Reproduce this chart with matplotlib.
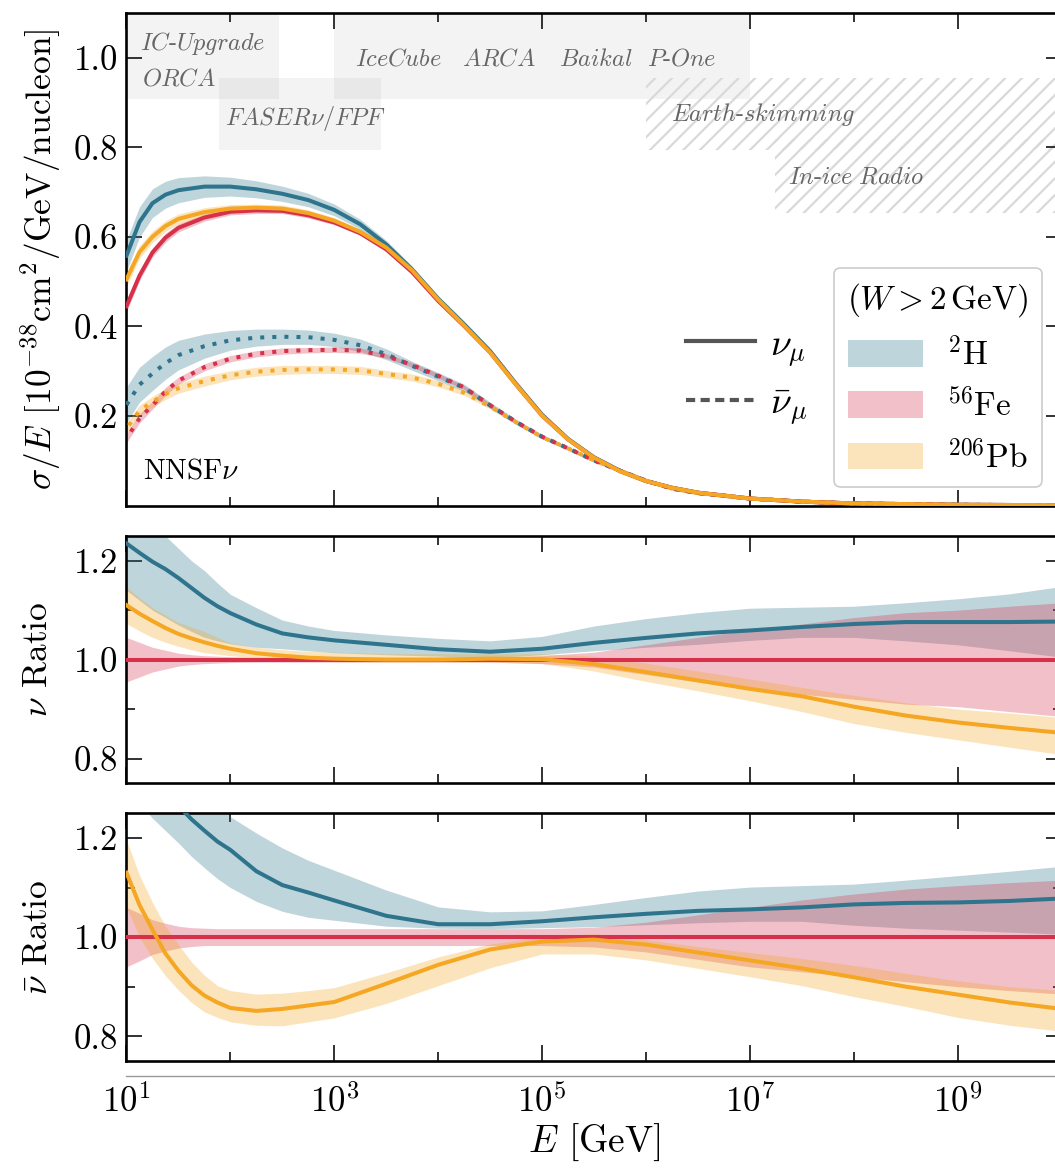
import numpy as np
import matplotlib
matplotlib.use("Agg")
import matplotlib.pyplot as plt
from matplotlib.patches import Patch
from matplotlib.lines import Line2D
from matplotlib.ticker import FixedLocator, NullFormatter, NullLocator

plt.rcParams.update({
    "font.family": "serif",
    "font.serif": ["cmr10"],
    "mathtext.fontset": "cm",
    "axes.formatter.use_mathtext": True,
    "hatch.linewidth": 1.6,
})

# ---------------- data ----------------
nuclei = ["2H", "56Fe", "206Pb"]
nucleus_labels = [r"$^{2}$H", r"$^{56}$Fe", r"$^{206}$Pb"]
colors = ["#2e748c", "#d7304a", "#f5a623"]

# cross sections sigma/E [1e-38 cm^2/GeV/nucleon] vs log10(E/GeV)
log_e_xs = [1.0, 1.125, 1.25, 1.375, 1.5, 1.75, 2.0, 2.25, 2.5, 2.75, 3.0, 3.25, 3.5, 3.75,
            4.0, 4.25, 4.5, 4.75, 5.0, 5.25, 5.5, 5.75, 6.0, 6.25, 6.5, 7.0, 7.5, 8.0, 9.0, 10.0]

xs_nu_h2 = [0.558, 0.633, 0.675, 0.694, 0.704, 0.712, 0.712, 0.706, 0.696, 0.682, 0.660, 0.628,
            0.583, 0.527, 0.462, 0.405, 0.345, 0.272, 0.203, 0.149, 0.108, 0.078, 0.055, 0.040,
            0.029, 0.016, 0.009, 0.005, 0.002, 0.001]
xs_nu_fe = [0.445, 0.513, 0.565, 0.598, 0.620, 0.643, 0.656, 0.659, 0.658, 0.648, 0.632, 0.608,
            0.572, 0.521, 0.457, 0.401, 0.342, 0.270, 0.201, 0.148, 0.107, 0.077, 0.055, 0.040,
            0.029, 0.016, 0.009, 0.005, 0.002, 0.001]
xs_nu_pb = [0.505, 0.566, 0.600, 0.624, 0.640, 0.655, 0.663, 0.665, 0.663, 0.653, 0.636, 0.611,
            0.576, 0.525, 0.460, 0.402, 0.342, 0.270, 0.201, 0.148, 0.107, 0.077, 0.055, 0.040,
            0.029, 0.016, 0.009, 0.005, 0.002, 0.001]
err_nu_h2 = [0.035, 0.034, 0.032, 0.030, 0.028, 0.024, 0.021, 0.019, 0.017, 0.015, 0.013, 0.011,
             0.009, 0.007, 0.006, 0.005, 0.005, 0.004, 0.004, 0.003, 0.003, 0.002, 0.002, 0.002,
             0.001, 0.001, 0.001, 0.001, 0.0005, 0.0005]
err_nu_fe = [0.012, 0.011, 0.010, 0.010, 0.009, 0.008, 0.007, 0.007, 0.006, 0.006, 0.005, 0.005,
             0.005, 0.004, 0.004, 0.004, 0.003, 0.003, 0.003, 0.002, 0.002, 0.002, 0.001, 0.001,
             0.001, 0.001, 0.001, 0.0005, 0.0005, 0.0005]
err_nu_pb = [0.016, 0.014, 0.013, 0.012, 0.011, 0.010, 0.009, 0.008, 0.008, 0.007, 0.007, 0.006,
             0.006, 0.005, 0.005, 0.004, 0.004, 0.003, 0.003, 0.003, 0.002, 0.002, 0.002, 0.001,
             0.001, 0.001, 0.001, 0.0005, 0.0005, 0.0005]

xs_nb_h2 = [0.225, 0.270, 0.295, 0.318, 0.336, 0.356, 0.369, 0.375, 0.377, 0.376, 0.370, 0.358,
            0.338, 0.312, 0.288, 0.263, 0.224, 0.187, 0.154, 0.128, 0.101, 0.078, 0.056, 0.038,
            0.028, 0.016, 0.009, 0.005, 0.002, 0.001]
xs_nb_fe = [0.150, 0.195, 0.224, 0.255, 0.279, 0.309, 0.328, 0.339, 0.345, 0.347, 0.348, 0.346,
            0.334, 0.314, 0.290, 0.264, 0.224, 0.187, 0.154, 0.128, 0.101, 0.078, 0.056, 0.038,
            0.028, 0.016, 0.009, 0.005, 0.002, 0.001]
xs_nb_pb = [0.172, 0.212, 0.232, 0.249, 0.262, 0.278, 0.291, 0.299, 0.303, 0.304, 0.304, 0.302,
            0.294, 0.286, 0.272, 0.252, 0.221, 0.186, 0.153, 0.128, 0.101, 0.078, 0.056, 0.038,
            0.028, 0.016, 0.009, 0.005, 0.002, 0.001]
err_nb_h2 = [0.040, 0.039, 0.038, 0.036, 0.033, 0.027, 0.022, 0.019, 0.017, 0.016, 0.015, 0.014,
             0.012, 0.010, 0.009, 0.008, 0.007, 0.006, 0.005, 0.004, 0.004, 0.003, 0.003, 0.002,
             0.002, 0.001, 0.001, 0.001, 0.0005, 0.0005]
err_nb_fe = [0.010, 0.010, 0.009, 0.009, 0.008, 0.008, 0.007, 0.007, 0.007, 0.006, 0.006, 0.006,
             0.005, 0.005, 0.005, 0.004, 0.004, 0.003, 0.003, 0.003, 0.002, 0.002, 0.002, 0.001,
             0.001, 0.001, 0.001, 0.0005, 0.0005, 0.0005]
err_nb_pb = [0.012, 0.012, 0.012, 0.012, 0.011, 0.011, 0.010, 0.010, 0.010, 0.009, 0.009, 0.009,
             0.008, 0.008, 0.007, 0.006, 0.005, 0.004, 0.004, 0.003, 0.003, 0.002, 0.002, 0.002,
             0.001, 0.001, 0.001, 0.0005, 0.0005, 0.0005]

# ratios to 56Fe vs log10(E/GeV)
log_e_ratio = [1.0, 1.125, 1.25, 1.375, 1.5, 1.625, 1.75, 1.875, 2.0, 2.25, 2.5, 2.75, 3.0, 3.5,
               4.0, 4.5, 5.0, 5.5, 6.0, 6.5, 7.0, 7.5, 8.0, 8.5, 9.0, 9.5, 10.0]

r_nu_h2 = [1.235, 1.216, 1.198, 1.183, 1.165, 1.145, 1.125, 1.108, 1.094, 1.071, 1.053, 1.045,
           1.039, 1.030, 1.021, 1.016, 1.022, 1.034, 1.044, 1.053, 1.059, 1.066, 1.072, 1.076,
           1.076, 1.076, 1.077]
r_nu_h2_lo = [1.140, 1.120, 1.100, 1.085, 1.070, 1.057, 1.045, 1.038, 1.032, 1.025, 1.022, 1.018,
              1.014, 1.010, 1.007, 1.004, 1.010, 1.018, 1.025, 1.031, 1.039, 1.045, 1.045, 1.038,
              1.030, 1.018, 1.005]
r_nu_h2_hi = [1.300, 1.290, 1.270, 1.250, 1.225, 1.200, 1.180, 1.155, 1.132, 1.105, 1.080, 1.068,
              1.059, 1.050, 1.043, 1.038, 1.047, 1.068, 1.083, 1.095, 1.104, 1.106, 1.108, 1.115,
              1.123, 1.133, 1.148]
r_nu_fe = [1.0] * 27
r_nu_fe_lo = [0.955, 0.965, 0.975, 0.981, 0.987, 0.990, 0.992, 0.993, 0.994, 0.995, 0.995, 0.995,
              0.995, 0.995, 0.995, 0.995, 0.992, 0.985, 0.970, 0.955, 0.940, 0.930, 0.920, 0.910,
              0.905, 0.895, 0.885]
r_nu_fe_hi = [1.045, 1.035, 1.025, 1.019, 1.013, 1.010, 1.008, 1.007, 1.006, 1.005, 1.005, 1.005,
              1.005, 1.005, 1.005, 1.005, 1.008, 1.015, 1.030, 1.045, 1.060, 1.072, 1.085, 1.095,
              1.100, 1.108, 1.115]
r_nu_pb = [1.110, 1.093, 1.078, 1.064, 1.052, 1.043, 1.035, 1.028, 1.022, 1.013, 1.008, 1.004,
           1.002, 1.000, 1.000, 1.002, 1.001, 0.991, 0.975, 0.958, 0.941, 0.926, 0.905, 0.887,
           0.873, 0.862, 0.852]
r_nu_pb_lo = [1.073, 1.058, 1.045, 1.035, 1.027, 1.020, 1.014, 1.011, 1.008, 1.004, 1.001, 0.998,
              0.996, 0.995, 0.995, 0.995, 0.992, 0.977, 0.956, 0.937, 0.917, 0.895, 0.871, 0.853,
              0.838, 0.823, 0.808]
r_nu_pb_hi = [1.147, 1.125, 1.105, 1.090, 1.075, 1.066, 1.057, 1.045, 1.034, 1.025, 1.020, 1.017,
              1.015, 1.012, 1.012, 1.012, 1.012, 1.007, 0.993, 0.977, 0.961, 0.944, 0.928, 0.913,
              0.900, 0.892, 0.883]

r_nb_h2 = [1.480, 1.430, 1.380, 1.320, 1.265, 1.238, 1.215, 1.193, 1.176, 1.133, 1.105, 1.090,
           1.074, 1.043, 1.026, 1.026, 1.032, 1.040, 1.047, 1.053, 1.056, 1.060, 1.066, 1.069,
           1.070, 1.073, 1.078]
r_nb_h2_lo = [1.300, 1.270, 1.240, 1.215, 1.190, 1.163, 1.140, 1.118, 1.100, 1.072, 1.052, 1.040,
              1.034, 1.022, 1.018, 1.017, 1.019, 1.021, 1.025, 1.029, 1.032, 1.032, 1.024, 1.018,
              1.014, 1.010, 1.006]
r_nb_h2_hi = [1.600, 1.550, 1.500, 1.450, 1.400, 1.360, 1.320, 1.280, 1.243, 1.210, 1.180, 1.155,
              1.135, 1.095, 1.061, 1.051, 1.053, 1.066, 1.080, 1.093, 1.101, 1.104, 1.107, 1.115,
              1.124, 1.133, 1.143]
r_nb_fe = [1.0] * 27
r_nb_fe_lo = [0.940, 0.952, 0.965, 0.972, 0.978, 0.981, 0.983, 0.983, 0.983, 0.983, 0.983, 0.983,
              0.983, 0.983, 0.983, 0.983, 0.983, 0.980, 0.970, 0.955, 0.940, 0.930, 0.920, 0.910,
              0.900, 0.892, 0.885]
r_nb_fe_hi = [1.060, 1.048, 1.035, 1.028, 1.022, 1.019, 1.018, 1.017, 1.017, 1.017, 1.017, 1.017,
              1.017, 1.017, 1.017, 1.017, 1.017, 1.020, 1.030, 1.045, 1.060, 1.075, 1.087, 1.097,
              1.104, 1.110, 1.115]
r_nb_pb = [1.130, 1.065, 1.015, 0.967, 0.932, 0.903, 0.882, 0.868, 0.857, 0.851, 0.855, 0.862,
           0.869, 0.906, 0.944, 0.975, 0.991, 0.995, 0.985, 0.969, 0.953, 0.937, 0.919, 0.900,
           0.884, 0.868, 0.855]
r_nb_pb_lo = [1.060, 1.000, 0.957, 0.922, 0.893, 0.868, 0.849, 0.838, 0.829, 0.822, 0.821, 0.829,
              0.837, 0.866, 0.902, 0.938, 0.966, 0.966, 0.954, 0.937, 0.920, 0.902, 0.880, 0.860,
              0.838, 0.822, 0.810]
r_nb_pb_hi = [1.196, 1.125, 1.070, 1.022, 0.985, 0.950, 0.923, 0.902, 0.892, 0.885, 0.887, 0.892,
              0.898, 0.928, 0.960, 0.986, 1.000, 1.007, 0.995, 0.981, 0.969, 0.957, 0.943, 0.927,
              0.912, 0.900, 0.892]

# experimental coverage: (label, E_min, E_max, y_min, y_max, hatched)
detector_regions = [
    ("IC-Upgrade/ORCA", 5.0, 2.95e2, 0.907, 1.2, False),
    ("FASER", 7.8e1, 2.8e3, 0.793, 0.955, False),
    ("neutrino telescopes", 1.0e3, 1.0e7, 0.907, 1.2, False),
    ("Earth-skimming", 1.0e6, 1.0e12, 0.793, 0.955, True),
    ("In-ice Radio", 1.74e7, 1.0e12, 0.654, 0.818, True),
]

# ---------------- figure ----------------
E_xs = 10.0 ** np.array(log_e_xs)
E_r = 10.0 ** np.array(log_e_ratio)

fig = plt.figure(figsize=(10.55, 11.7), dpi=100)
left, width = 0.1199, 0.8863
ax1 = fig.add_axes([left, 0.5678, width, 0.4213])
ax2 = fig.add_axes([left, 0.3305, width, 0.2114])
ax3 = fig.add_axes([left, 0.0932, width, 0.2117])

LW = 2.9
FS = 25      # tick labels
FL = 25.5    # axis labels

# detector regions
for label, e0, e1, y0, y1, hatched in detector_regions:
    if hatched:
        ax1.fill_between([e0, e1], y0, y1, facecolor="none", edgecolor="#d9d9d9",
                         hatch="//", linewidth=0, zorder=0)
    else:
        ax1.fill_between([e0, e1], y0, y1, facecolor="#7f7f7f", alpha=0.09,
                         linewidth=0, zorder=0)

txt_kw = dict(fontsize=17.5, color="#666666", va="center", ha="left")
ax1.text(13.5, 1.031, r"$\mathit{IC}$-$\mathit{Upgrade}$", **txt_kw)
ax1.text(14.1, 0.952, r"$\mathit{ORCA}$", **txt_kw)
ax1.text(88.7, 0.865, r"$\mathit{FASER}\nu/\mathit{FPF}$", **txt_kw)
ax1.text(1.57e3, 0.995, r"$\mathit{IceCube}$", **txt_kw)
ax1.text(1.69e4, 0.995, r"$\mathit{ARCA}$", **txt_kw)
ax1.text(1.46e5, 0.995, r"$\mathit{Baikal}$", **txt_kw)
ax1.text(1.02e6, 0.995, r"$\mathit{P}$-$\mathit{One}$", **txt_kw)
ax1.text(1.73e6, 0.874, r"$\mathit{Earth}$-$\mathit{skimming}$", **txt_kw)
ax1.text(2.33e7, 0.732, r"$\mathit{In}$-$\mathit{ice\ Radio}$", **txt_kw)

# cross sections
nu_sets = [(xs_nu_h2, err_nu_h2), (xs_nu_fe, err_nu_fe), (xs_nu_pb, err_nu_pb)]
nb_sets = [(xs_nb_h2, err_nb_h2), (xs_nb_fe, err_nb_fe), (xs_nb_pb, err_nb_pb)]
for i, c in enumerate(colors):
    v, e = np.array(nu_sets[i][0]), np.array(nu_sets[i][1])
    ax1.fill_between(E_xs, v - e, v + e, color=c, alpha=0.3, linewidth=0, zorder=2)
    v, e = np.array(nb_sets[i][0]), np.array(nb_sets[i][1])
    ax1.fill_between(E_xs, v - e, v + e, color=c, alpha=0.3, linewidth=0, zorder=2)
for i, c in enumerate(colors):
    ax1.plot(E_xs, nu_sets[i][0], color=c, lw=LW, zorder=3)
    ax1.plot(E_xs, nb_sets[i][0], color=c, lw=LW, zorder=3,
             linestyle=(i * 1.0, (1.0, 2.0)), dash_capstyle="butt")

ax1.set_ylim(0.0, 1.1)
ax1.set_yticks([0.2, 0.4, 0.6, 0.8, 1.0])
ax1.set_yticklabels(["0.2", "0.4", "0.6", "0.8", "1.0"])
ax1.set_ylabel(r"$\sigma/E$ [$10^{-38}$cm$^2$/GeV/nucleon]", fontsize=FL)
ax1.yaxis.set_label_coords(-0.068, 0.5)

ax1.text(0.0176, 0.056, r"NNSF$\nu$", transform=ax1.transAxes, fontsize=21,
         ha="left", va="baseline")

# nucleus legend
nuc_handles = [Patch(facecolor=c, alpha=0.3, edgecolor="none") for c in colors]
leg1 = ax1.legend(nuc_handles, nucleus_labels, title=r"$(W>2\,\mathrm{GeV})$",
                  loc="lower right", bbox_to_anchor=(0.979, 0.038), borderaxespad=0,
                  fontsize=24, title_fontsize=24, handlelength=2.25, handleheight=0.85,
                  labelspacing=0.5, handletextpad=0.7, frameon=True, fancybox=True,
                  edgecolor="#cccccc", framealpha=1.0, borderpad=0.4)
leg1.get_frame().set_linewidth(1.2)
ax1.add_artist(leg1)

# line style legend
ls_handles = [Line2D([], [], color="#555555", lw=3.0, ls="-"),
              Line2D([], [], color="#555555", lw=3.0, ls=(0, (2.2, 1.3)))]
ax1.legend(ls_handles, [r"$\nu_\mu$", r"$\bar{\nu}_\mu$"], loc="upper left",
           bbox_to_anchor=(0.598, 0.36), borderaxespad=0, borderpad=0, frameon=False,
           fontsize=27, handlelength=1.85, handletextpad=0.4, labelspacing=0.5)

# ratio panels
ratio_sets = [
    (ax2, [(r_nu_h2, r_nu_h2_lo, r_nu_h2_hi), (r_nu_fe, r_nu_fe_lo, r_nu_fe_hi),
           (r_nu_pb, r_nu_pb_lo, r_nu_pb_hi)]),
    (ax3, [(r_nb_h2, r_nb_h2_lo, r_nb_h2_hi), (r_nb_fe, r_nb_fe_lo, r_nb_fe_hi),
           (r_nb_pb, r_nb_pb_lo, r_nb_pb_hi)]),
]
for ax, sets in ratio_sets:
    for (mid, lo, hi), c in zip(sets, colors):
        ax.fill_between(E_r, lo, hi, color=c, alpha=0.3, linewidth=0, zorder=2)
    for (mid, lo, hi), c in zip(sets, colors):
        ax.plot(E_r, mid, color=c, lw=LW, zorder=3)
    ax.set_ylim(0.75, 1.25)
    ax.set_yticks([0.8, 1.0, 1.2])
    ax.set_yticklabels(["0.8", "1.0", "1.2"])
    ax.yaxis.set_minor_locator(FixedLocator([0.9, 1.1]))

ax2.set_ylabel(r"$\nu$ Ratio", fontsize=FL)
ax3.set_ylabel(r"$\bar{\nu}$ Ratio", fontsize=FL)
ax2.yaxis.set_label_coords(-0.077, 0.5)
ax3.yaxis.set_label_coords(-0.077, 0.5)

for ax in (ax1, ax2, ax3):
    ax.set_xscale("log")
    ax.set_xlim(10, 1e10)
    ax.xaxis.set_major_locator(FixedLocator([1e1, 1e3, 1e5, 1e7, 1e9]))
    ax.xaxis.set_minor_locator(FixedLocator([1e2, 1e4, 1e6, 1e8, 1e10]))
    ax.xaxis.set_major_formatter(NullFormatter())
    ax.xaxis.set_minor_formatter(NullFormatter())
    ax.tick_params(which="both", direction="in", top=True, right=True, labelsize=FS,
                   width=1.3, colors="#222222", labelcolor="black")
    ax.tick_params(which="major", length=11.5, pad=6)
    ax.tick_params(which="minor", length=6.5)
    for sp in ax.spines.values():
        sp.set_linewidth(1.9)
    if ax is ax1:
        ax.yaxis.set_minor_locator(NullLocator())

# energy axis below the panels
sec = ax3.secondary_xaxis(location=-0.0606)
sec.set_xticks([1e1, 1e3, 1e5, 1e7, 1e9])
sec.set_xticklabels([r"$10^{1}$", r"$10^{3}$", r"$10^{5}$", r"$10^{7}$", r"$10^{9}$"])
sec.xaxis.set_minor_locator(NullLocator())
sec.tick_params(which="both", length=0, pad=6, labelsize=FS)
sec.spines["bottom"].set_color("#9a9a9a")
sec.spines["bottom"].set_linewidth(1.0)
sec.set_xlabel(r"$E$ [GeV]", fontsize=27, labelpad=2)

fig.savefig("out.png", dpi=100)
